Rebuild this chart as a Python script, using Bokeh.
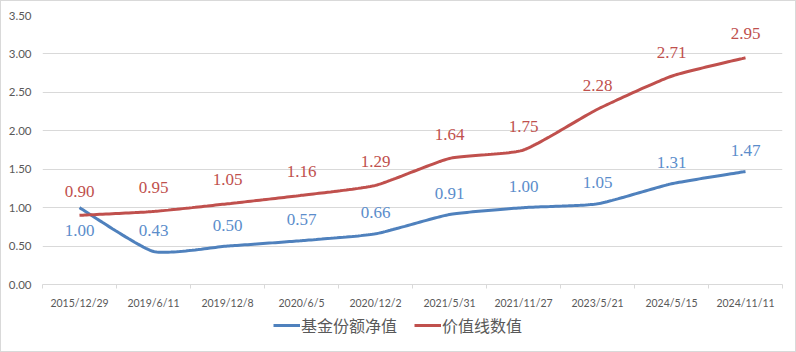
import numpy as np
from bokeh.plotting import figure
from bokeh.layouts import column
from bokeh.models import (ColumnDataSource, FixedTicker, Range1d, Legend, LegendItem,
                          LabelSet, NumeralTickFormatter)
from bokeh.embed import file_html
from bokeh.resources import INLINE

categories = ["2015/12/29", "2019/6/11", "2019/12/8", "2020/6/5", "2020/12/2",
              "2021/5/31", "2021/11/27", "2023/5/21", "2024/5/15", "2024/11/11"]
nav_values = [1.00, 0.43, 0.50, 0.57, 0.66, 0.91, 1.00, 1.05, 1.31, 1.47]
value_line = [0.90, 0.95, 1.05, 1.16, 1.29, 1.64, 1.75, 2.28, 2.71, 2.95]
series_names = ["基金份额净值", "价值线数值"]
y_ticks = [0, 0.5, 1.0, 1.5, 2.0, 2.5, 3.0, 3.5]

BLUE = "#4F81BD"
RED = "#C0504D"
GREY = "#595959"
NUMFONT = "Lato"
CJK = "Noto Sans CJK SC"


def smooth(xs, ys, n=30, k=0.09):
    # Excel-like smoothed line (cubic Bezier with modest tension)
    xs = np.asarray(xs, float)
    ys = np.asarray(ys, float)
    px, py = [], []
    m = len(xs)
    for i in range(m - 1):
        i0 = max(i - 1, 0)
        i3 = min(i + 2, m - 1)
        p0 = np.array([xs[i], ys[i]])
        p3 = np.array([xs[i + 1], ys[i + 1]])
        c1 = p0 + (np.array([xs[i + 1], ys[i + 1]]) - np.array([xs[i0], ys[i0]])) * k
        c2 = p3 - (np.array([xs[i3], ys[i3]]) - np.array([xs[i], ys[i]])) * k
        t = np.linspace(0, 1, n)[:, None]
        pts = ((1 - t) ** 3) * p0 + 3 * ((1 - t) ** 2) * t * c1 + 3 * (1 - t) * t ** 2 * c2 + t ** 3 * p3
        if i > 0:
            pts = pts[1:]
        px.extend(pts[:, 0])
        py.extend(pts[:, 1])
    return px, py


x = list(range(len(categories)))

p = figure(width=794, height=312, output_backend="svg", toolbar_location=None,
           x_range=Range1d(-0.5, len(categories) - 0.5), y_range=Range1d(0, 3.5),
           min_border_left=41, min_border_right=13, min_border_top=14, min_border_bottom=29)
p.outline_line_color = None
p.background_fill_color = "white"
p.border_fill_color = "white"

# axes
p.xaxis.ticker = FixedTicker(ticks=x, minor_ticks=[i - 0.5 for i in range(len(categories) + 1)])
p.xaxis.major_label_overrides = {i: c for i, c in enumerate(categories)}
p.xaxis.major_tick_line_color = None
p.xaxis.major_tick_out = 0
p.xaxis.major_tick_in = 0
p.xaxis.minor_tick_line_color = "#D9D9D9"
p.xaxis.minor_tick_in = 0
p.xaxis.minor_tick_out = 4
p.xaxis.axis_line_color = "#D9D9D9"
p.xaxis.major_label_text_font = NUMFONT
p.xaxis.major_label_text_font_size = "10.5px"
p.xaxis.major_label_text_color = GREY
p.xaxis.major_label_standoff = 8

p.yaxis.ticker = FixedTicker(ticks=y_ticks)
p.yaxis.formatter = NumeralTickFormatter(format="0.00")
p.yaxis.axis_line_color = None
p.yaxis.major_tick_line_color = None
p.yaxis.minor_tick_line_color = None
p.yaxis.major_tick_out = 0
p.yaxis.major_label_text_font = NUMFONT
p.yaxis.major_label_text_font_size = "11.5px"
p.yaxis.major_label_text_color = GREY
p.yaxis.major_label_standoff = 11

p.xgrid.grid_line_color = None
p.ygrid.grid_line_color = "#D9D9D9"
p.ygrid.grid_line_width = 1

bx, by = smooth(x, nav_values)
rx, ry = smooth(x, value_line)
p.line(bx, by, line_color=BLUE, line_width=3)
p.line(rx, ry, line_color=RED, line_width=3)

# data labels
blue_off = [-23] + [21] * (len(nav_values) - 1)
src_b = ColumnDataSource(dict(x=x, y=nav_values, t=[f"{v:.2f}" for v in nav_values], off=blue_off))
src_r = ColumnDataSource(dict(x=x, y=value_line, t=[f"{v:.2f}" for v in value_line],
                              off=[24] * len(value_line)))
for src, col in ((src_b, "#5B8DCB"), (src_r, RED)):
    p.add_layout(LabelSet(x="x", y="y", text="t", source=src, y_offset="off",
                          text_align="center", text_baseline="middle",
                          text_color=col, text_font=NUMFONT, text_font_size="17px"))

# legend strip
leg = figure(width=794, height=38, output_backend="svg", toolbar_location=None,
             x_range=Range1d(0, 1), y_range=Range1d(0, 1),
             x_axis_location=None, y_axis_location=None,
             min_border_left=0, min_border_right=0, min_border_top=0, min_border_bottom=0)
leg.outline_line_color = None
leg.xgrid.grid_line_color = None
leg.ygrid.grid_line_color = None
# renderers kept outside the visible range, used only for legend glyphs
dl_b = leg.line(x=[5, 6], y=[5, 5], line_color=BLUE, line_width=3)
dl_r = leg.line(x=[5, 6], y=[5, 5], line_color=RED, line_width=3)
legend = Legend(items=[LegendItem(label=series_names[0], renderers=[dl_b]),
                       LegendItem(label=series_names[1], renderers=[dl_r])],
                orientation="horizontal", location=(231, 14),
                label_text_font=CJK, label_text_font_size="16px", label_text_color=GREY,
                glyph_width=27, glyph_height=18, spacing=17, label_standoff=1,
                background_fill_alpha=0, border_line_color=None, padding=0, margin=0)
leg.add_layout(legend, "center")

layout = column(p, leg, spacing=0, styles={"border": "1px solid #D9D9D9"})

open("out.html", "w").write(file_html(layout, INLINE))
